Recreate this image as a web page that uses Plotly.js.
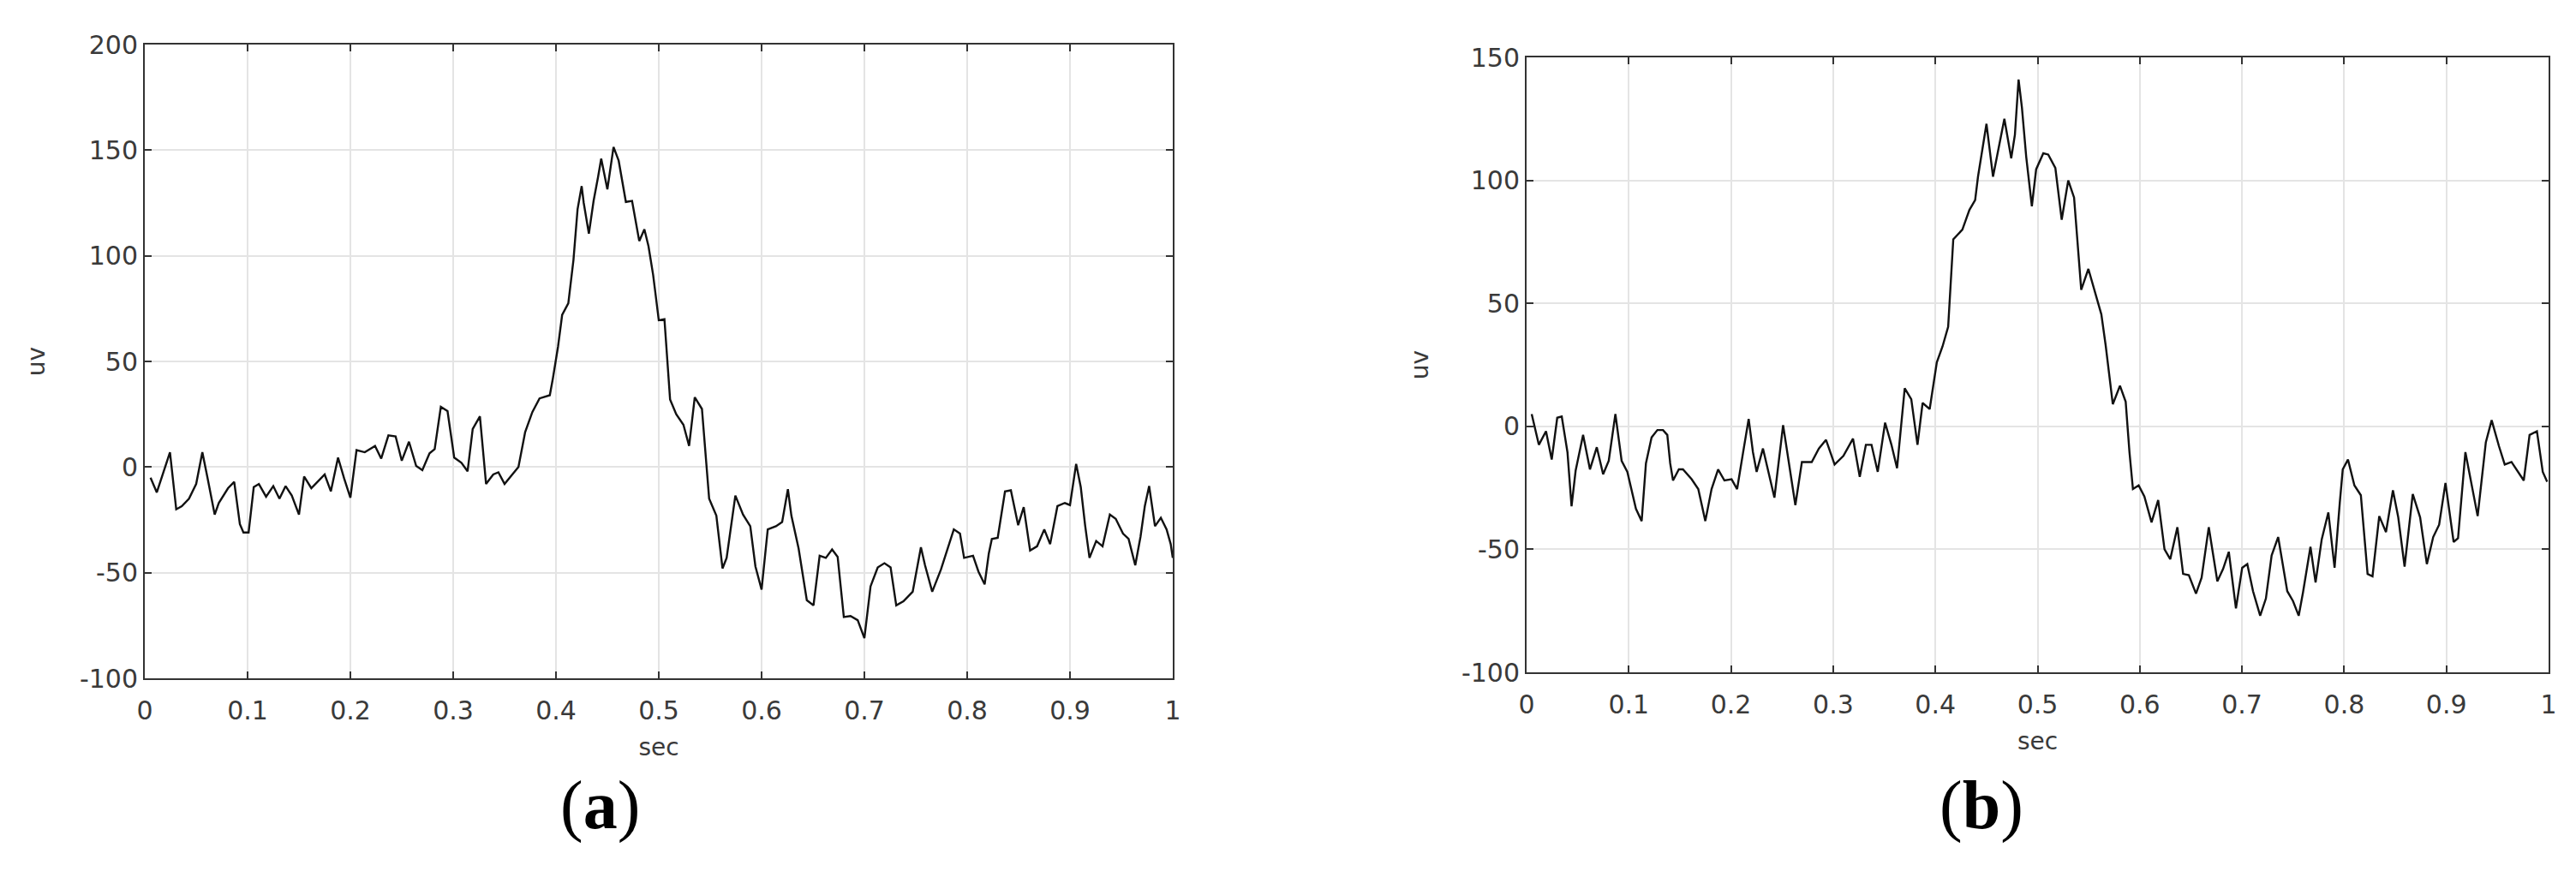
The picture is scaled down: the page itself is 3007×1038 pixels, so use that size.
<!DOCTYPE html>
<html>
<head>
<meta charset="utf-8">
<script src="https://cdn.plot.ly/plotly-3.0.1.min.js"></script>
<style>
  html, body { margin: 0; padding: 0; background: #fff; }
  #chart { width: 3007px; height: 1038px; }
</style>
</head>
<body>
<div id="chart"></div>
<script>
// panel (a): time (sec) and amplitude (uv)
const tA = [
  0.0056, 0.0117, 0.0245, 0.0306, 0.036, 0.043, 0.050, 0.056, 0.061, 0.068,
  0.072, 0.081, 0.087, 0.0925, 0.096, 0.101, 0.106, 0.111, 0.118, 0.125,
  0.131, 0.137, 0.143, 0.150, 0.155, 0.162, 0.168, 0.175, 0.181, 0.188,
  0.194, 0.200, 0.206, 0.214, 0.224, 0.230, 0.237, 0.244, 0.250, 0.257,
  0.264, 0.270, 0.277, 0.282, 0.288, 0.2945, 0.301, 0.308, 0.314, 0.319,
  0.326, 0.332, 0.339, 0.344, 0.350, 0.357, 0.3635, 0.370, 0.377, 0.384,
  0.394, 0.397, 0.402, 0.406, 0.412, 0.417, 0.421, 0.425, 0.427, 0.432,
  0.4366, 0.441, 0.444, 0.450, 0.456, 0.461, 0.468, 0.474, 0.481, 0.486,
  0.490, 0.4945, 0.500, 0.5055, 0.511, 0.517, 0.524, 0.5295, 0.535, 0.542,
  0.549, 0.556, 0.562, 0.566, 0.5745, 0.582, 0.589, 0.594, 0.600, 0.606,
  0.614, 0.620, 0.6256, 0.629, 0.636, 0.644, 0.6505, 0.6565, 0.6625, 0.6686,
  0.674, 0.680, 0.6865, 0.6935, 0.700, 0.706, 0.713, 0.7195, 0.7255, 0.731,
  0.738, 0.747, 0.755, 0.759, 0.766, 0.7745, 0.7816, 0.787, 0.793, 0.797,
  0.8057, 0.811, 0.817, 0.821, 0.824, 0.8297, 0.8368, 0.8425, 0.8496, 0.855,
  0.8612, 0.868, 0.875, 0.8807, 0.8878, 0.895, 0.900, 0.906, 0.9105, 0.9147,
  0.919, 0.9255, 0.9317, 0.9388, 0.9445, 0.9516, 0.957, 0.9635, 0.9686, 0.9728,
  0.977, 0.9827, 0.9884, 0.994, 0.998, 1.0
];
const vA = [
  -5, -12, 7, -20, -18.5, -15, -8, 7, -5, -22.5,
  -17, -10, -7, -27, -31, -31, -9.5, -8, -14, -9,
  -15, -9, -13.5, -22.5, -4.5, -10, -7, -3.5, -11.5, 4.5,
  -5.5, -14.5, 8, 7, 10, 4, 15, 14.5, 3, 12,
  0.5, -1.5, 6.5, 8.5, 28.5, 26.5, 4.5, 2, -2, 18,
  24, -8, -3.5, -2.5, -8, -4, 0, 16.5, 26, 32.5,
  34, 42, 57, 72, 77.5, 98, 122, 133, 125, 110.5,
  126, 137.5, 146, 131.5, 151.5, 145, 125.5, 126, 107, 112.5,
  104.5, 91, 69.5, 70, 32, 25, 20, 10, 33, 27.5,
  -15, -23, -48, -43, -13.5, -22.5, -28, -47, -58, -29.5,
  -28, -26, -10.5, -23, -38.5, -63, -65.5, -42, -43, -39,
  -42.5, -71, -70.5, -72.5, -81, -56.5, -47.5, -45.5, -47.5, -65.5,
  -63.5, -59, -38, -46.5, -59, -48.5, -37.5, -29.5, -31.5, -43,
  -42, -49.5, -55.5, -41, -34, -33.5, -11.5, -11, -27.5, -19,
  -39.5, -37.5, -29.5, -36.5, -18.5, -17, -18, 1.5, -9.5, -27.5,
  -43, -35, -37.5, -22.5, -24.5, -31.5, -34, -46.5, -33, -18.5,
  -9, -28, -24, -29.5, -36.5, -43
];

// panel (b)
const tB = [
  0.005, 0.012, 0.019, 0.0246, 0.030, 0.0344, 0.040, 0.044, 0.048, 0.0553,
  0.062, 0.0687, 0.0749, 0.0804, 0.0869, 0.093, 0.0986, 0.1028, 0.107, 0.1126,
  0.1168, 0.1223, 0.128, 0.1335, 0.1377, 0.1405, 0.1433, 0.149, 0.153, 0.1615,
  0.168, 0.1749, 0.181, 0.1874, 0.1936, 0.2006, 0.206, 0.2117, 0.2173, 0.2215,
  0.2251, 0.2313, 0.2369, 0.2425, 0.251, 0.2575, 0.263, 0.2694, 0.279, 0.286,
  0.293, 0.3014, 0.310, 0.3194, 0.326, 0.332, 0.3375, 0.3436, 0.3508, 0.357,
  0.3625, 0.370, 0.3764, 0.3825, 0.3875, 0.3944, 0.4014, 0.407, 0.4125, 0.4175,
  0.4264, 0.4333, 0.4389, 0.4417, 0.450, 0.4564, 0.4625, 0.4675, 0.4742, 0.4778,
  0.4814, 0.4847, 0.4889, 0.4944, 0.4986, 0.5056, 0.5104, 0.5174, 0.5236, 0.530,
  0.5357, 0.5427, 0.5497, 0.5567, 0.5624, 0.5666, 0.5736, 0.5806, 0.5862, 0.5899,
  0.5933, 0.5989, 0.6045, 0.6115, 0.618, 0.6242, 0.6298, 0.6368, 0.6424, 0.648,
  0.655, 0.6605, 0.6675, 0.6759, 0.6815, 0.6871, 0.6941, 0.7002, 0.7052, 0.7108,
  0.7178, 0.7234, 0.729, 0.7354, 0.7443, 0.7499, 0.7555, 0.7597, 0.767, 0.772,
  0.778, 0.7845, 0.7906, 0.7957, 0.7986, 0.8037, 0.810, 0.8163, 0.8229, 0.8277,
  0.8343, 0.8409, 0.8477, 0.8529, 0.8591, 0.8671, 0.8743, 0.8809, 0.8871, 0.8929,
  0.8991, 0.9071, 0.9114, 0.9186, 0.9243, 0.9306, 0.9386, 0.9443, 0.9514, 0.9571,
  0.9637, 0.970, 0.9757, 0.9814, 0.9886, 0.9943, 0.9986
];
const vB = [
  5, -7.5, -2, -13.5, 3.5, 4, -10.5, -32.5, -18, -3.5,
  -17.5, -8.5, -19.5, -14, 5, -14, -18.5, -25.5, -33.5, -38.5,
  -15, -4.5, -1.5, -1.5, -3.5, -15, -22, -17.5, -17.5, -21.5,
  -25.5, -38.5, -25.5, -17.5, -22, -21.5, -25.5, -11, 3, -10.5,
  -18.5, -9, -19.5, -29, 0.5, -18, -32, -14.5, -14.5, -9,
  -5.5, -15.5, -12, -5, -20.5, -7.5, -7.5, -18.5, 1.5, -7.5,
  -17, 15.5, 11, -7.5, 9.5, 7, 26, 32.5, 40.5, 76,
  80, 88, 92, 101.5, 123, 101.5, 114.5, 125, 109, 118.5,
  141, 129.5, 109.5, 89.5, 104.5, 111, 110.5, 105, 84, 100,
  93, 55.5, 64, 53.5, 45.5, 33, 9, 16.5, 10, -10.5,
  -25.5, -24, -28.5, -39, -30, -50, -54, -41, -60, -60.5,
  -68, -61.5, -41, -63, -58, -51, -74, -57.5, -56, -67,
  -77, -70, -52.5, -45, -67, -71, -77, -67.5, -49, -63.5,
  -46, -35, -57.5, -31, -17.5, -13.5, -24, -28, -60, -61,
  -36.5, -43, -26, -37, -57, -27.5, -37, -56, -45, -40,
  -23, -47, -45.5, -10.5, -23, -36.5, -6.5, 2.5, -8, -15.5,
  -14.5, -18.5, -22, -3.5, -2, -18.5, -22.5
];

const xTickVals = [0, 0.1, 0.2, 0.3, 0.4, 0.5, 0.6, 0.7, 0.8, 0.9, 1];
const xTickText = ['0', '0.1', '0.2', '0.3', '0.4', '0.5', '0.6', '0.7', '0.8', '0.9', '1'];
const yTickValsA = [-100, -50, 0, 50, 100, 150, 200];
const yTickTextA = ['-100', '-50', '0', '50', '100', '150', '200'];
const yTickValsB = [-100, -50, 0, 50, 100, 150];
const yTickTextB = ['-100', '-50', '0', '50', '100', '150'];

const W = 3007, H = 1038;
const tickFont  = { family: 'DejaVu Sans, Arial, sans-serif', size: 30, color: '#3a3a3a' };
const titleFont = { family: 'DejaVu Sans, Arial, sans-serif', size: 28, color: '#3a3a3a' };

function baseAxis(extra) {
    return Object.assign({
        showline: true, mirror: 'ticks', linecolor: '#333', linewidth: 2,
        ticks: 'inside', ticklen: 8, tickwidth: 2, tickcolor: '#333',
        showgrid: true, gridcolor: '#e4e4e4', gridwidth: 2,
        zeroline: false, tickfont: tickFont, automargin: false
    }, extra);
}

// px box of each axes -> paper fractions
const boxA = { x0: 169,  x1: 1369, y0: 52, y1: 792 };
const boxB = { x0: 1782, x1: 2975, y0: 67, y1: 785 };
const dx = b => [b.x0 / W, b.x1 / W];
const dy = b => [1 - b.y1 / H, 1 - b.y0 / H];

const traces = [
    { x: tA, y: vA, xaxis: 'x', yaxis: 'y', mode: 'lines',
      line: { color: '#111', width: 2.4 }, showlegend: false },
    { x: tB, y: vB, xaxis: 'x2', yaxis: 'y2', mode: 'lines',
      line: { color: '#111', width: 2.4 }, showlegend: false }
];

const layout = {
    width: W, height: H,
    margin: { l: 0, r: 0, t: 0, b: 0 },
    paper_bgcolor: '#fff', plot_bgcolor: '#fff',
    xaxis: baseAxis({ domain: dx(boxA), anchor: 'y', range: [0, 1],
        tickvals: xTickVals, ticktext: xTickText, ticklabelstandoff: 10,
        title: { text: 'sec', font: titleFont, standoff: 16 } }),
    yaxis: baseAxis({ domain: dy(boxA), anchor: 'x', range: [-100, 200],
        tickvals: yTickValsA, ticktext: yTickTextA,
        title: { text: 'uv', font: titleFont, standoff: 32 } }),
    xaxis2: baseAxis({ domain: dx(boxB), anchor: 'y2', range: [0, 1],
        tickvals: xTickVals, ticktext: xTickText, ticklabelstandoff: 10,
        title: { text: 'sec', font: titleFont, standoff: 16 } }),
    yaxis2: baseAxis({ domain: dy(boxB), anchor: 'x2', range: [-100, 150],
        tickvals: yTickValsB, ticktext: yTickTextB,
        title: { text: 'uv', font: titleFont, standoff: 30 } }),
    annotations: [
        { text: '(<b>a</b>)', xref: 'paper', yref: 'paper', x: 700 / W, y: 1 - 940 / H,
          xanchor: 'center', yanchor: 'middle', showarrow: false,
          font: { family: 'Liberation Serif, Times New Roman, serif', size: 80, color: '#000' } },
        { text: '(<b>b</b>)', xref: 'paper', yref: 'paper', x: 2313 / W, y: 1 - 940 / H,
          xanchor: 'center', yanchor: 'middle', showarrow: false,
          font: { family: 'Liberation Serif, Times New Roman, serif', size: 80, color: '#000' } }
    ]
};

Plotly.newPlot('chart', traces, layout, { staticPlot: true, displayModeBar: false });
</script>
</body>
</html>
